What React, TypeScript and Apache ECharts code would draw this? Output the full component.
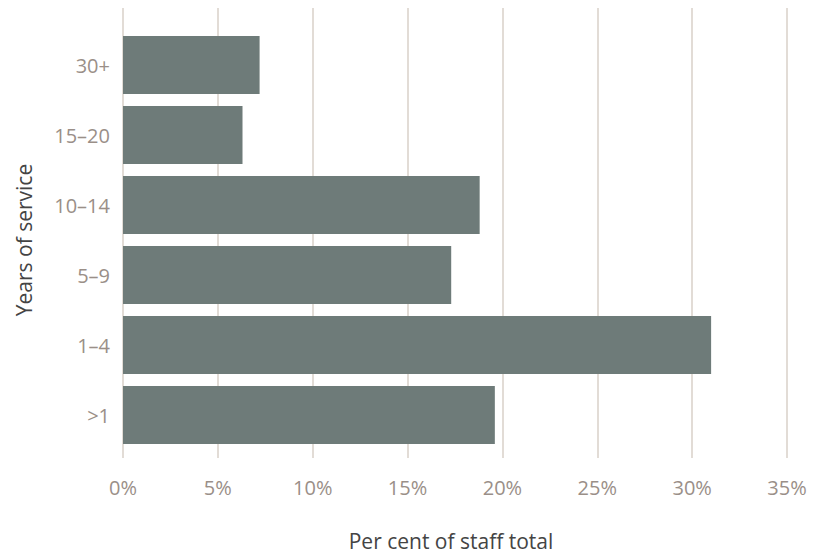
import React, { useEffect, useRef } from "react";
import * as echarts from "echarts";

const categories = [">1", "1–4", "5–9", "10–14", "15–20", "30+"];
const values = [19.6, 31.0, 17.3, 18.8, 6.3, 7.2];
const xTicks = [0, 5, 10, 15, 20, 25, 30, 35];

const FONT = "'Open Sans', 'Noto Sans', sans-serif";

export default function App() {
  const ref = useRef<HTMLDivElement>(null);
  useEffect(() => {
    if (!ref.current) return;
    const chart = echarts.init(ref.current, undefined, { renderer: "svg" });
    chart.setOption({
      animation: false,
      backgroundColor: "#ffffff",
      textStyle: { fontFamily: FONT },
      grid: [
        { left: 123, right: 35, top: 7, bottom: 99 },
        { left: 123, right: 35, top: 30, bottom: 107 },
      ],
      xAxis: [
        {
          gridIndex: 0,
          type: "value",
          min: xTicks[0],
          max: xTicks[xTicks.length - 1],
          interval: 5,
          axisLine: { show: false },
          axisTick: { show: false },
          splitLine: { show: true, lineStyle: { color: "#d9d0c9", width: 1.5 } },
          axisLabel: {
            formatter: "{value}%",
            color: "#9a8f88",
            fontSize: 20,
            fontFamily: FONT,
            margin: 19,
          },
          name: "Per cent of staff total",
          nameLocation: "middle",
          nameGap: 72,
          nameTextStyle: {
            color: "#444444",
            fontSize: 21,
            fontFamily: FONT,
            padding: [0, 8, 0, 0],
          },
        },
        {
          gridIndex: 1,
          type: "value",
          min: xTicks[0],
          max: xTicks[xTicks.length - 1],
          interval: 5,
          show: false,
        },
      ],
      yAxis: [
        { gridIndex: 0, type: "value", show: false },
        {
          gridIndex: 1,
          type: "category",
          data: categories,
          axisLine: { show: false },
          axisTick: { show: false },
          splitLine: { show: false },
          axisLabel: {
            color: "#9a8f88",
            fontSize: 20,
            fontFamily: FONT,
            margin: 13,
          },
          name: "Years of service",
          nameLocation: "middle",
          nameRotate: 90,
          nameGap: 89,
          nameTextStyle: { color: "#444444", fontSize: 21, fontFamily: FONT },
        },
      ],
      series: [
        {
          type: "bar",
          xAxisIndex: 1,
          yAxisIndex: 1,
          data: values,
          barWidth: 58,
          itemStyle: { color: "#6e7b79" },
          silent: true,
        },
      ],
    });
    return () => chart.dispose();
  }, []);
  return <div ref={ref} style={{ width: 822, height: 557, margin: -8 }} />;
}
